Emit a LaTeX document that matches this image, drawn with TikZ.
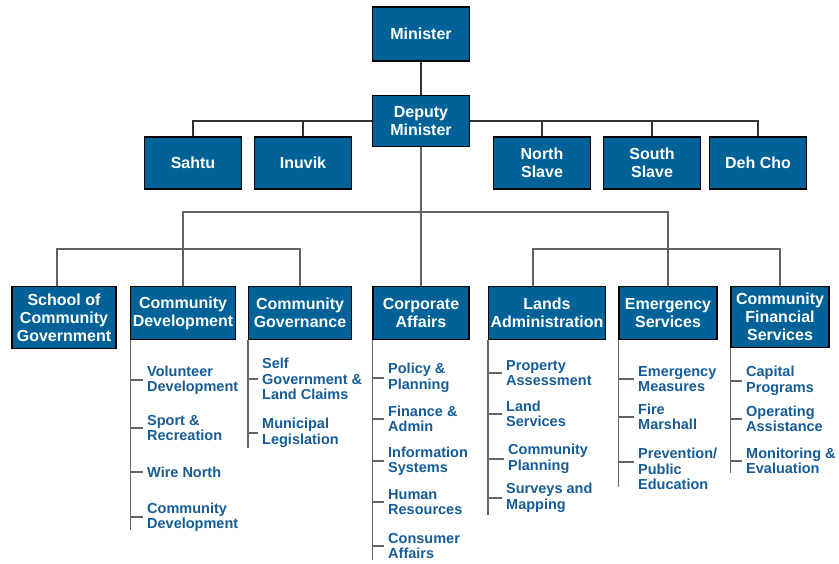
\documentclass[tikz,border=0pt]{standalone}
\usepackage{fontspec}
\setmainfont{Liberation Sans}
\usepackage{tikz}
\usetikzlibrary{positioning}
\definecolor{govblue}{RGB}{0,98,150}
\definecolor{itemblue}{RGB}{22,92,150}
\definecolor{linegray}{RGB}{100,100,100}
\tikzset{
    x=1pt, y=-1pt,
    unit/.style={draw=black, line width=1.2pt, fill=govblue, text=white, align=center,
        font=\bfseries\fontsize{16}{18}\selectfont, inner sep=2pt},
    region/.style={unit, minimum width=97pt, minimum height=52pt},
    branch/.style={unit, anchor=north, minimum height=53pt},
    task/.style={anchor=west, text=itemblue, align=left,
        font=\bfseries\fontsize{14.5}{15.5}\selectfont, inner xsep=4pt, inner ysep=0pt},
    link/.style={draw=linegray, line width=1.3pt},
    toplink/.style={draw=black!80, line width=1.3pt}
}

\begin{document}
\begin{tikzpicture}
    \useasboundingbox (0,0) rectangle (839,563);
    % top of the chart
        \node[unit, minimum width=97pt, minimum height=54pt] (min) at (421,34) {Minister};
        \node[unit, minimum width=97pt, minimum height=51pt] (dep) at (421,121) {Deputy\\Minister};
        \node[region] (sahtu) at (193,163) {Sahtu};
        \node[region] (inuvik) at (303,163) {Inuvik};
        \node[region] (nslave) at (542,163) {North\\Slave};
        \node[region] (sslave) at (652,163) {South\\Slave};
        \node[region] (dehcho) at (758,163) {Deh Cho};
        \draw[toplink]
            (min) -- (dep)
            (sahtu.north) |- (dep.west)
            (inuvik.north) -- (inuvik.north |- dep.west)
            (dehcho.north) |- (dep.east)
            (nslave.north) -- (nslave.north |- dep.east)
            (sslave.north) -- (sslave.north |- dep.east);

    % divisions
        \coordinate (bus) at (0,212);
        \coordinate (lbar) at (0,249);
        \node[branch, minimum width=104pt, minimum height=62pt] (school) at (64,286) {School of\\Community\\Government};
        \node[branch, minimum width=104pt] (cdev) at (183,286) {Community\\Development};
        \node[branch, minimum width=103pt] (cgov) at (300,286) {Community\\Governance};
        \node[branch, minimum width=96pt] (corp) at (421,286) {Corporate\\Affairs};
        \node[branch, minimum width=117pt] (lands) at (547,286) {Lands\\Administration};
        \node[branch, minimum width=98pt] (emerg) at (668,286) {Emergency\\Services};
        \node[branch, minimum width=98pt, minimum height=61pt] (cfs) at (780,286) {Community\\Financial\\Services};
        \draw[link]
            (dep) -- (corp)
            (cdev.north) |- (emerg.north |- bus) -- (emerg.north)
            ([xshift=-7pt]school.north) |- (cgov.north |- lbar) -- (cgov.north)
            ([xshift=-14pt]lands.north) |- (cfs.north |- lbar) -- (cfs.north);

    % Community Development
        \node[task] (vol) at (143,380) {Volunteer\\Development};
        \node[task] (sport) at (143,428) {Sport \&\\Recreation};
        \node[task] (wire) at (143,472) {Wire North};
        \node[task] (cdevel) at (143,517) {Community\\Development};
        \draw[link] (cdev.south west) -- (cdev.south west |- 0,530);
        \draw[link]
            (vol.west -| cdev.south west) -- (vol.west)
            (sport.west -| cdev.south west) -- (sport.west)
            (wire.west -| cdev.south west) -- (wire.west)
            (cdevel.west -| cdev.south west) -- (cdevel.west);

    % Community Governance
        \node[task] (selfgov) at (258,379) {Self\\Government \&\\Land Claims};
        \node[task] (muni) at (258,433) {Municipal\\Legislation};
        \draw[link] (cgov.south west) -- (cgov.south west |- 0,448);
        \draw[link]
            (selfgov.west -| cgov.south west) -- (selfgov.west)
            (muni.west -| cgov.south west) -- (muni.west);

    % Corporate Affairs
        \node[task] (policy) at (384,378) {Policy \&\\Planning};
        \node[task] (finance) at (384,419) {Finance \&\\Admin};
        \node[task] (infosys) at (384,461) {Information\\Systems};
        \node[task] (human) at (384,502) {Human\\Resources};
        \node[task] (consumer) at (384,546) {Consumer\\Affairs};
        \draw[link] (corp.south west) -- (corp.south west |- 0,560);
        \draw[link]
            (policy.west -| corp.south west) -- (policy.west)
            (finance.west -| corp.south west) -- (finance.west)
            (infosys.west -| corp.south west) -- (infosys.west)
            (human.west -| corp.south west) -- (human.west)
            (consumer.west -| corp.south west) -- (consumer.west);

    % Lands Administration
        \node[task] (property) at (502,373) {Property\\Assessment};
        \node[task] (landserv) at (502,414) {Land\\Services};
        \node[task] (complan) at (504,459) {Community\\Planning};
        \node[task] (surveys) at (502,498) {Surveys and\\Mapping};
        \draw[link] (lands.south west) -- (lands.south west |- 0,515);
        \draw[link]
            (property.west -| lands.south west) -- (property.west)
            (landserv.west -| lands.south west) -- (landserv.west)
            (complan.west -| lands.south west) -- (complan.west)
            (surveys.west -| lands.south west) -- (surveys.west);

    % Emergency Services
        \node[task] (measures) at (634,379) {Emergency\\Measures};
        \node[task] (fire) at (634,417) {Fire\\Marshall};
        \node[task] (prevent) at (634,469) {Prevention/\\Public\\Education};
        \draw[link] (emerg.south west) -- (emerg.south west |- 0,487);
        \draw[link]
            (measures.west -| emerg.south west) -- (measures.west)
            (fire.west -| emerg.south west) -- (fire.west)
            ([yshift=7pt]prevent.west -| emerg.south west) -- ([yshift=7pt]prevent.west);

    % Community Financial Services
        \node[task] (capital) at (742,381) {Capital\\Programs};
        \node[task] (operating) at (742,419) {Operating\\Assistance};
        \node[task] (monitor) at (742,461) {Monitoring \&\\Evaluation};
        \draw[link] (cfs.south west) -- (cfs.south west |- 0,473);
        \draw[link]
            (capital.west -| cfs.south west) -- (capital.west)
            (operating.west -| cfs.south west) -- (operating.west)
            (monitor.west -| cfs.south west) -- (monitor.west);
    \end{tikzpicture}
\end{document}
